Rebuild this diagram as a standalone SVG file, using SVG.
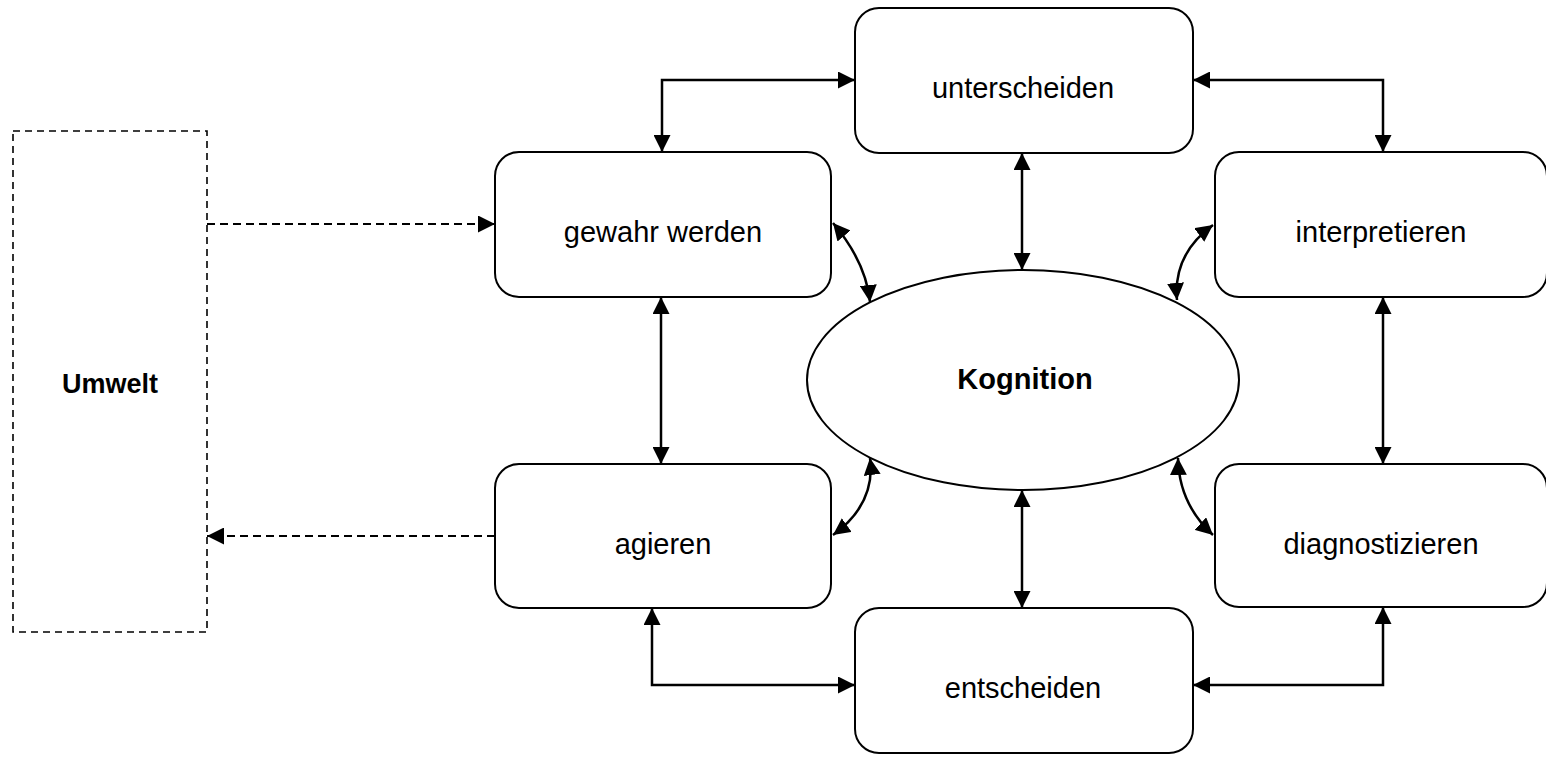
<svg xmlns="http://www.w3.org/2000/svg" width="1546" height="761" viewBox="0 0 1546 761">
  <style>
    .box { fill: #ffffff; stroke: #000000; stroke-width: 2; }
    .env { fill: none; stroke: #000000; stroke-width: 1.6; stroke-dasharray: 7 5; }
    .lbl { font-family: "Liberation Sans", Arial, sans-serif; font-size: 29px; fill: #000000; text-anchor: middle; }
    .bold { font-weight: bold; }
    .link { fill: none; stroke: #000000; stroke-width: 2.5; marker-start: url(#tip); marker-end: url(#tip); }
    .dash { fill: none; stroke: #000000; stroke-width: 2; stroke-dasharray: 8 5; marker-end: url(#tip); }
  </style>
  <defs>
    <marker id="tip" markerUnits="userSpaceOnUse" markerWidth="17" markerHeight="17" viewBox="0 0 17 17" refX="17" refY="8.5" orient="auto-start-reverse">
      <path d="M0,0 L17,8.5 L0,17 z" fill="#000000"/>
    </marker>
  </defs>

  <rect width="1546" height="761" fill="#ffffff"/>

  <!-- environment -->
  <g id="umwelt">
    <rect class="env" x="13" y="131" width="194" height="501"/>
    <text class="lbl bold" x="110" y="393" style="font-size:27px">Umwelt</text>
  </g>

  <!-- process steps -->
  <g id="unterscheiden">
    <rect class="box" x="855" y="8" width="338" height="145" rx="24" ry="24"/>
    <text class="lbl" x="1023" y="98">unterscheiden</text>
  </g>
  <g id="gewahr-werden">
    <rect class="box" x="495" y="152" width="336" height="145" rx="24" ry="24"/>
    <text class="lbl" x="663" y="242">gewahr werden</text>
  </g>
  <g id="interpretieren">
    <rect class="box" x="1215" y="152" width="332" height="145" rx="24" ry="24"/>
    <text class="lbl" x="1381" y="242">interpretieren</text>
  </g>
  <g id="agieren">
    <rect class="box" x="495" y="464" width="336" height="144" rx="24" ry="24"/>
    <text class="lbl" x="663" y="554">agieren</text>
  </g>
  <g id="diagnostizieren">
    <rect class="box" x="1215" y="464" width="332" height="143" rx="24" ry="24"/>
    <text class="lbl" x="1381" y="554">diagnostizieren</text>
  </g>
  <g id="entscheiden">
    <rect class="box" x="855" y="608" width="338" height="145" rx="24" ry="24"/>
    <text class="lbl" x="1023" y="698">entscheiden</text>
  </g>

  <!-- central node -->
  <g id="kognition">
    <ellipse class="box" cx="1023" cy="380" rx="216" ry="110"/>
    <text class="lbl bold" x="1025" y="389">Kognition</text>
  </g>

  <!-- connectors -->
  <g id="connectors">
    <path class="link" d="M662,152 L662,80 L855,80"/>
    <path class="link" d="M1193,80 L1383,80 L1383,152"/>
    <path class="link" d="M661,297 L661,464"/>
    <path class="link" d="M1383,297 L1383,464"/>
    <path class="link" d="M652,608 L652,685 L855,685"/>
    <path class="link" d="M1383,607 L1383,685 L1193,685"/>
    <path class="link" d="M1022,153 L1022,270"/>
    <path class="link" d="M1022,490 L1022,608"/>
    <path class="link" d="M833,223 Q866,262 870,302"/>
    <path class="link" d="M870,458 Q876,504 833,535"/>
    <path class="link" d="M1213,225 Q1173,254 1177,300"/>
    <path class="link" d="M1178,458 Q1179,504 1213,535"/>
    <path class="dash" d="M207,224 L495,224"/>
    <path class="dash" d="M495,536 L207,536"/>
  </g>
</svg>
